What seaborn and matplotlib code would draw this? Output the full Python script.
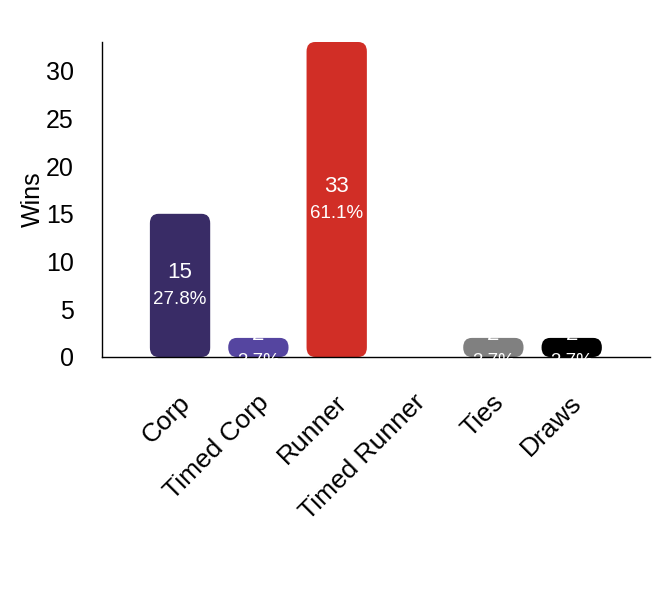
import matplotlib
matplotlib.use("Agg")
import matplotlib.pyplot as plt
import matplotlib.transforms as mtransforms
import seaborn as sns
import pandas as pd
from matplotlib.patches import FancyBboxPatch

categories = ["Corp", "Timed Corp", "Runner", "Timed Runner", "Ties", "Draws"]
wins = [15, 2, 33, 0, 2, 2]
colors = ["#392c66", "#5545a0", "#d12e26", "#d12e26", "#808080", "#000000"]

df = pd.DataFrame({"result": categories, "wins": wins})
total = sum(wins)

sns.set_style("white")
plt.rcParams["font.family"] = ["Liberation Sans", "DejaVu Sans"]
plt.rcParams["text.color"] = "black"
plt.rcParams["axes.labelcolor"] = "black"
plt.rcParams["xtick.color"] = "black"
plt.rcParams["ytick.color"] = "black"

fig = plt.figure(figsize=(6.52, 6.0), dpi=100)
ax = fig.add_axes([0.156, 0.405, 0.841, 0.525])

sns.barplot(data=df, x="result", y="wins", hue="result", palette=colors,
            saturation=1, legend=False, width=0.77, ax=ax)

ax.set_xlim(-1, 6)
ax.set_ylim(0, 33)
ax.set_yticks([0, 5, 10, 15, 20, 25, 30])

# swap the square bars for rounded ones
aspect = 9.0
for p in list(ax.patches):
    x0, y0 = p.get_x(), p.get_y()
    w, h = p.get_width(), p.get_height()
    fc = p.get_facecolor()
    p.remove()
    if h <= 0:
        continue
    ax.add_patch(FancyBboxPatch((x0, y0), w, h,
                                boxstyle="round,pad=0,rounding_size=0.11",
                                mutation_aspect=aspect, facecolor=fc,
                                edgecolor="none", zorder=2))

for i, v in enumerate(wins):
    if v == 0:
        continue
    ax.annotate(f"{v}", (i, v / 2), xytext=(0, 2), textcoords="offset points",
                color="white", fontsize=16, ha="center", va="bottom", zorder=3)
    ax.annotate(f"{v / total * 100:.1f}%", (i, v / 2), xytext=(0, -4),
                textcoords="offset points", color="white", fontsize=13.5,
                ha="center", va="top", zorder=3)

ax.set_xlabel("")
ax.set_ylabel("Wins", fontsize=18, labelpad=1)
ax.tick_params(axis="y", length=0, pad=20, labelsize=18)
ax.tick_params(axis="x", length=0, pad=24, labelsize=19)
shift = mtransforms.ScaledTranslation(15 / 100, 0, fig.dpi_scale_trans)
for lab in ax.get_xticklabels():
    lab.set_rotation(45)
    lab.set_ha("right")
    lab.set_transform(lab.get_transform() + shift)

for s in ["top", "right"]:
    ax.spines[s].set_visible(False)
for s in ["left", "bottom"]:
    ax.spines[s].set_color("black")
    ax.spines[s].set_linewidth(1.0)

fig.savefig("out.png", dpi=100)
